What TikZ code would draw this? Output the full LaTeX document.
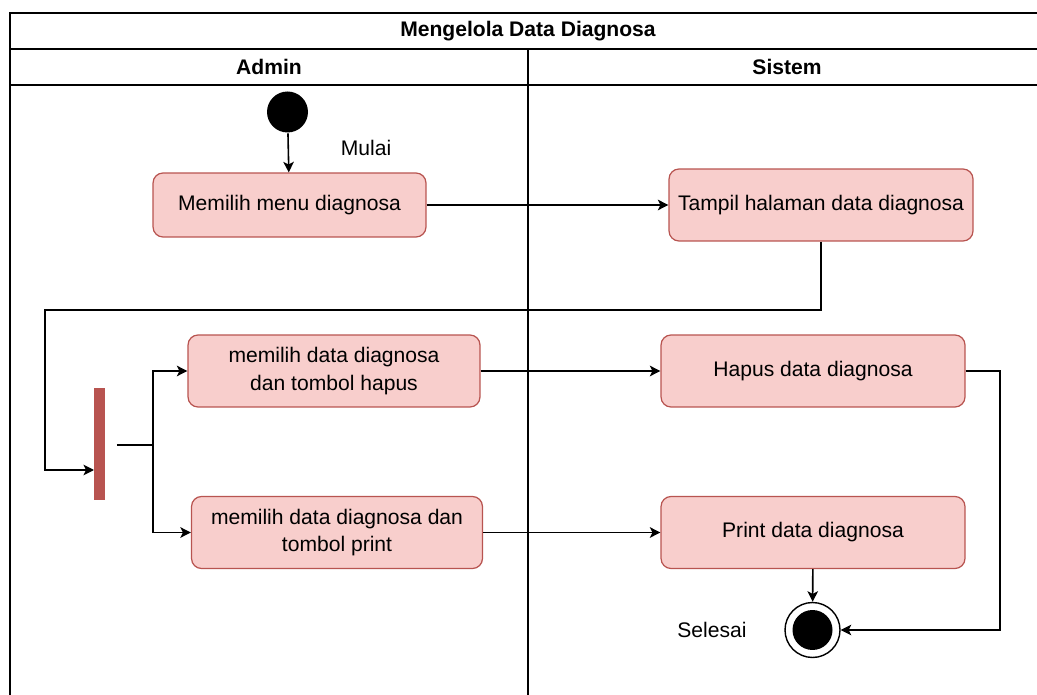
\documentclass[tikz,border=0pt]{standalone}
\usepackage{fontspec}
\setmainfont{Liberation Sans}
\usepackage[dvipsnames]{xcolor}
\usetikzlibrary{arrows.meta}
\definecolor{actfill}{HTML}{F8CECC}
\definecolor{actline}{HTML}{B85450}

\begin{document}
\begin{tikzpicture}[x=0.02cm,y=-0.02cm,>={Stealth[length=6pt,width=6pt,inset=1.5pt]},line width=0.9pt,
    font=\fontsize{12}{15.5}\selectfont,
    act node/.style={rectangle,rounded corners=0.2cm,draw=actline,fill=actfill,line width=0.7pt,
        align=center,inner xsep=2pt,minimum width=6.08cm,minimum height=1.44cm},
    start node/.style={circle,fill=black,minimum size=0.82cm,inner sep=0pt},
    end node/.style={circle,draw=black,line width=0.8pt,fill=white,minimum size=1.1cm,inner sep=0pt,
        path picture={\fill[black] (path picture bounding box.center) circle (0.4cm);}},
    fork node/.style={rectangle,fill=actline,minimum width=0.22cm,minimum height=2.24cm,inner sep=0pt},
    lane title/.style={font=\fontsize{12}{15}\selectfont\bfseries}]
                \useasboundingbox (0,0) rectangle (1037,695);
                \clip (0,0) rectangle (1037,695);

                % swimlanes
                \draw (10,720) -- (10,13) -- (1046,13) -- (1046,720);
                \draw (10,49) -- (1046,49);
                \draw (10,85) -- (1046,85);
                \draw (528,49) -- (528,720);
                \node[lane title] (judul) at (528,31) {Mengelola Data Diagnosa};
                \node[lane title] (admin) at (269,67) {Admin};
                \node[lane title] (sistem) at (787,67) {Sistem};

                % activities
                \node[start node] (mulai) at (287.5,112) {};
                \node (lblmulai) at (366,148) {Mulai};
                \node[act node,minimum width=5.46cm,minimum height=1.28cm] (menu) at (289.5,205) {Memilih menu diagnosa};
                \node[act node] (tampil) at (821,205) {Tampil halaman data diagnosa};
                \node[fork node] (fork) at (99.5,444) {};
                \node[act node,minimum width=5.84cm] (pilihhapus) at (334,371) {memilih data diagnosa\\dan tombol hapus};
                \node[act node,minimum width=5.82cm] (pilihprint) at (337,532.5) {memilih data diagnosa dan\\tombol print};
                \node[act node] (hapus) at (813,371) {Hapus data diagnosa};
                \node[act node] (print) at (813,532.5) {Print data diagnosa};
                \node[end node] (selesai) at (812.5,630) {};
                \node (lblselesai) at (712,630) {Selesai};

                \coordinate (forkin) at (94,470);
                \coordinate (cabang) at (153,445);

                \path[->]
                    (mulai) edge (menu)
                    (menu) edge (tampil)
                    (pilihhapus) edge (hapus)
                    (pilihprint) edge (print)
                    (print) edge (selesai)
                    ;
                \draw[->] (tampil.south) |- (45,310) |- (forkin);
                \draw[shorten <=0.22cm] (fork.east |- cabang) -- (cabang);
                \draw[->] (cabang) |- (pilihhapus.west);
                \draw[->] (cabang) |- (pilihprint.west);
                \draw[->] (hapus.east) -- (1000,371) |- (selesai.east);
            \end{tikzpicture}
\end{document}
